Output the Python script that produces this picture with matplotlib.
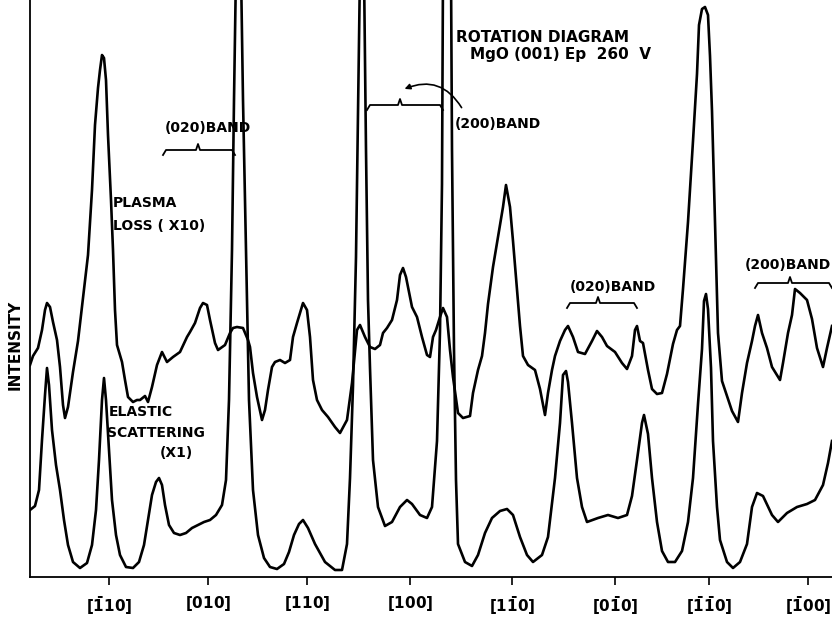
import matplotlib
matplotlib.use("Agg")
import matplotlib.pyplot as plt

# chart position along the recorder trace and pen deflection (arbitrary units)
plasma_pos = [30, 33, 38, 42, 45, 47, 50, 53, 57, 60, 63, 65, 68, 73, 78, 83, 88, 92, 95, 98,
              100, 102, 104, 106, 108, 111, 113, 115, 117, 122, 125, 128, 133, 137, 140, 145, 148, 152, 157, 162,
              167, 173, 180, 187, 190, 195, 200, 203, 207, 210, 215, 218, 225, 230, 233, 237, 243, 248, 250, 253,
              257, 262, 265, 268, 272, 275, 280, 285, 290, 293, 297, 300, 303, 307, 310, 313, 317, 322, 328, 335,
              340, 347, 352, 357, 360, 365, 370, 375, 380, 383, 387, 392, 397, 400, 403, 406, 408, 412, 417, 422,
              427, 430, 433, 436, 440, 443, 447, 450, 453, 458, 463, 470, 473, 478, 482, 485, 488, 493, 498, 503,
              506, 510, 513, 517, 520, 523, 528, 535, 540, 545, 548, 552, 555, 560, 565, 568, 573, 578, 585, 592,
              597, 602, 607, 615, 622, 627, 632, 635, 637, 640, 643, 648, 652, 657, 662, 667, 673, 677, 680, 683,
              688, 693, 697, 699, 702, 705, 708, 710, 712, 715, 718, 722, 727, 732, 738, 742, 747, 752, 755, 758,
              762, 767, 772, 780, 783, 788, 792, 795, 800, 807, 812, 817, 823, 827, 832]
plasma_int = [210, 219, 227, 245, 265, 272, 268, 253, 235, 208, 170, 157, 168, 203, 234, 277, 320, 385, 450, 487,
              505, 520, 517, 495, 440, 375, 325, 265, 230, 213, 195, 178, 173, 175, 175, 179, 173, 188, 210, 223,
              213, 218, 223, 238, 243, 252, 267, 272, 270, 255, 232, 225, 230, 242, 247, 248, 247, 235, 228, 202,
              178, 155, 165, 185, 208, 213, 215, 212, 215, 238, 252, 262, 272, 265, 238, 195, 175, 165, 158, 148,
              142, 155, 192, 245, 250, 238, 228, 226, 230, 242, 247, 255, 275, 300, 307, 298, 288, 268, 258, 238,
              220, 218, 238, 245, 258, 267, 258, 225, 198, 162, 157, 159, 182, 205, 219, 242, 271, 308, 338, 368,
              390, 368, 334, 286, 249, 219, 210, 205, 186, 160, 182, 205, 219, 234, 245, 249, 238, 223, 221, 234,
              244, 238, 229, 223, 212, 206, 219, 245, 249, 234, 232, 205, 186, 181, 182, 201, 231, 245, 249, 286,
              353, 434, 501, 550, 566, 568, 560, 519, 464, 353, 242, 194, 179, 164, 153, 182, 212, 234, 249, 260,
              242, 227, 208, 195, 212, 242, 260, 286, 282, 275, 256, 227, 208, 227, 249]

elastic_pos = [30, 35, 39, 42, 45, 47, 49, 52, 56, 60, 64, 68, 73, 80, 87, 92, 96, 99, 102, 104,
               106, 109, 112, 116, 120, 126, 133, 139, 144, 148, 152, 156, 159, 162, 165, 169, 174, 180, 186, 192,
               198, 204, 210, 216, 222, 226, 229, 232, 234, 236, 241, 243, 246, 249, 253, 258, 264, 270, 277, 284,
               289, 294, 299, 303, 308, 315, 325, 335, 342, 347, 350, 353, 356, 358, 360, 364, 366, 368, 370, 373,
               378, 385, 392, 400, 407, 412, 420, 427, 432, 437, 440, 442, 443, 451, 452, 454, 456, 458, 465, 472,
               478, 485, 492, 500, 507, 513, 520, 527, 533, 542, 548, 555, 560, 563, 566, 568, 572, 577, 582, 587,
               598, 608, 618, 627, 632, 637, 642, 644, 648, 652, 657, 662, 668, 675, 682, 688, 693, 698, 702, 704,
               706, 708, 711, 713, 717, 720, 727, 733, 740, 747, 752, 757, 763, 772, 778, 787, 797, 807, 815, 823,
               828, 832]
elastic_int = [65, 69, 85, 135, 180, 207, 190, 145, 110, 85, 55, 30, 13, 7, 12, 30, 65, 115, 175, 197,
               175, 125, 75, 40, 20, 8, 7, 13, 30, 55, 80, 93, 97, 90, 70, 50, 42, 40, 42, 47,
               50, 53, 55, 60, 70, 95, 175, 325, 475, 605, 605, 475, 325, 175, 85, 40, 17, 8, 6, 11,
               23, 40, 51, 55, 47, 31, 13, 5, 5, 31, 97, 189, 318, 465, 605, 605, 425, 275, 207, 115,
               68, 49, 53, 68, 75, 71, 60, 57, 68, 134, 244, 391, 605, 605, 425, 225, 95, 31, 13, 9,
               20, 42, 57, 64, 66, 60, 38, 20, 13, 20, 38, 97, 152, 200, 204, 193, 152, 97, 68, 53,
               57, 60, 57, 60, 79, 115, 152, 160, 141, 97, 53, 24, 13, 13, 24, 53, 97, 171, 226, 274,
               281, 266, 207, 134, 68, 35, 13, 7, 13, 31, 68, 82, 79, 60, 53, 62, 68, 71, 75, 90,
               112, 134]

tick_pos = [109, 208, 307, 410, 512, 615, 709, 808]
tick_labels = [r'$\mathbf{[\bar{1}10]}$', r'$\mathbf{[010]}$', r'$\mathbf{[110]}$', r'$\mathbf{[100]}$',
               r'$\mathbf{[1\bar{1}0]}$', r'$\mathbf{[0\bar{1}0]}$', r'$\mathbf{[\bar{1}\bar{1}0]}$',
               r'$\mathbf{[\bar{1}00]}$']

# band brackets: (left, right, centre, height)
bands = [(163, 235, 198, 425), (367, 443, 400, 470), (567, 637, 598, 272), (755, 832, 790, 292)]


def brace(ax, x0, x1, xc, y):
    ax.plot([x0, x0 + 3, xc - 2, xc, xc + 2, x1 - 3, x1],
            [y - 5, y, y, y + 6, y, y, y - 5], color='k', lw=1.3, clip_on=False)


def main():
    fig = plt.figure(figsize=(8.32, 6.17), dpi=100)
    ax = fig.add_axes([30 / 832, 40 / 617, 802 / 832, 577 / 617])

    ax.plot(plasma_pos, plasma_int, color='k', lw=1.9)
    ax.plot(elastic_pos, elastic_int, color='k', lw=1.9)

    ax.set_xlim(30, 832)
    ax.set_ylim(-2, 575)
    ax.spines['top'].set_visible(False)
    ax.spines['right'].set_visible(False)
    ax.spines['left'].set_linewidth(1.3)
    ax.spines['bottom'].set_linewidth(1.3)
    ax.set_yticks([])
    ax.set_xticks(tick_pos)
    ax.set_xticklabels(tick_labels, fontsize=11)
    ax.tick_params(axis='x', direction='out', length=6, width=1.2, pad=6)

    for x0, x1, xc, y in bands:
        brace(ax, x0, x1, xc, y)

    bold = dict(fontweight='bold', color='k', family='DejaVu Sans')
    ax.text(456, 537, 'ROTATION DIAGRAM', fontsize=11, va='center', **bold)
    ax.text(470, 520, 'MgO (001) Ep  260  V', fontsize=11, va='center', **bold)
    ax.text(165, 447, '(020)BAND', fontsize=10, va='center', **bold)
    ax.text(455, 451, '(200)BAND', fontsize=10, va='center', **bold)
    ax.text(570, 288, '(020)BAND', fontsize=10, va='center', **bold)
    ax.text(745, 310, '(200)BAND', fontsize=10, va='center', **bold)
    ax.text(113, 372, 'PLASMA', fontsize=10, va='center', **bold)
    ax.text(113, 349, 'LOSS ( X10)', fontsize=10, va='center', **bold)
    ax.text(109, 163, 'ELASTIC', fontsize=10, va='center', **bold)
    ax.text(107, 142, 'SCATTERING', fontsize=10, va='center', **bold)
    ax.text(160, 122, '(X1)', fontsize=10, va='center', **bold)

    ax.annotate('', xy=(402, 485), xytext=(463, 465),
                arrowprops=dict(arrowstyle='-|>', color='k', lw=1.2,
                                connectionstyle='arc3,rad=0.45', mutation_scale=8))

    fig.text(15 / 832, 1 - 345 / 617, 'INTENSITY', rotation=90, ha='center', va='center',
             fontsize=11, **bold)

    fig.savefig('out.png', dpi=100)


if __name__ == "__main__":
    main()
